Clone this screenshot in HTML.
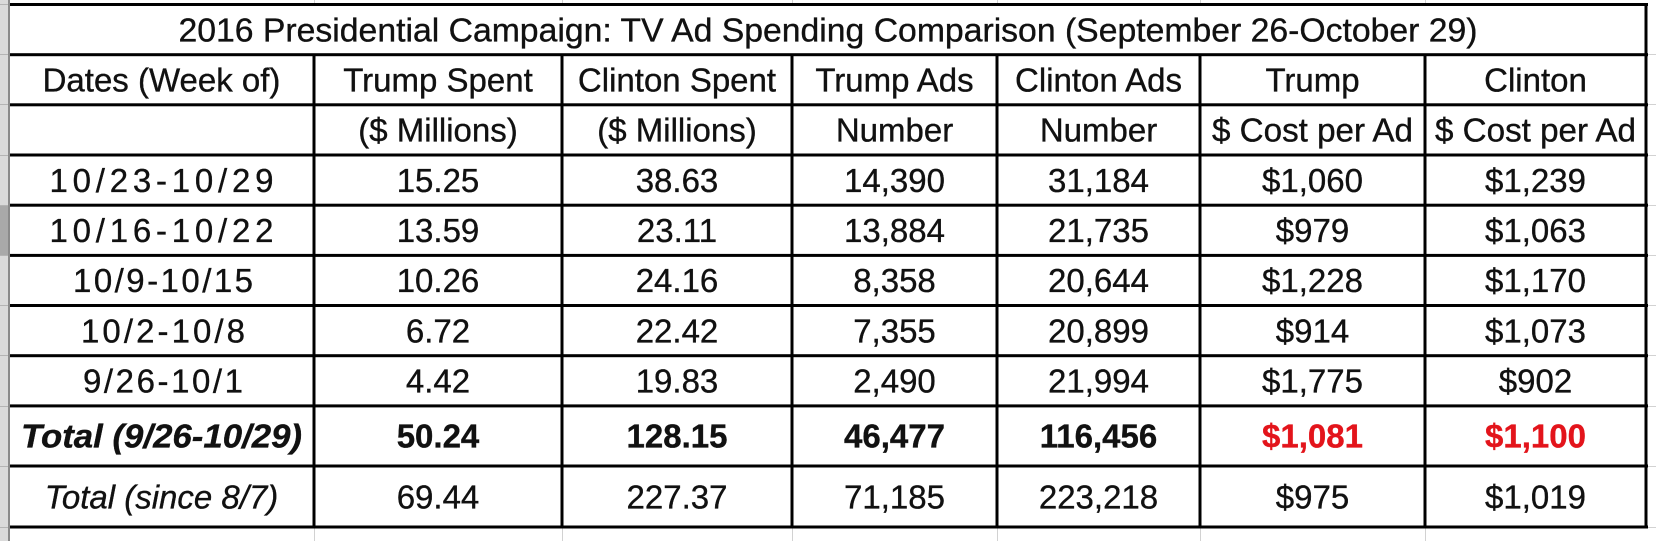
<!DOCTYPE html>
<html>
<head>
<meta charset="utf-8">
<style>
  html, body { margin:0; padding:0; background:#ffffff; }
  body { width:1656px; height:541px; overflow:hidden; }
  svg { display:block; }
  text { font-family: "Liberation Sans", Arial, sans-serif; font-size:33px; fill:#111; stroke:#111; stroke-width:0.35px; }
  .b { font-weight:bold; }
  .i { font-style:italic; }
  .red { fill:#e3141b; stroke:#e3141b; }
</style>
</head>
<body>
<svg width="1656" height="541" viewBox="0 0 1656 541" xmlns="http://www.w3.org/2000/svg">
  <rect x="0" y="0" width="1656" height="541" fill="#ffffff"/>

  <!-- left spreadsheet row-header strip -->
  <rect x="0" y="0" width="8" height="541" fill="#dadada"/>
  <rect x="0" y="205" width="8" height="50" fill="#a9a9a9"/>
  <g fill="#b4b4b4">
    <rect x="0" y="4" width="8" height="1"/>
    <rect x="0" y="54" width="8" height="1"/>
    <rect x="0" y="104" width="8" height="1"/>
    <rect x="0" y="155" width="8" height="1"/>
    <rect x="0" y="205" width="8" height="1"/>
    <rect x="0" y="255" width="8" height="1"/>
    <rect x="0" y="305" width="8" height="1"/>
    <rect x="0" y="355" width="8" height="1"/>
    <rect x="0" y="406" width="8" height="1"/>
    <rect x="0" y="466" width="8" height="1"/>
    <rect x="0" y="527" width="8" height="1"/>
  </g>
  <rect x="8" y="0" width="2" height="541" fill="#8a8a8a"/>

  <!-- faint spreadsheet gridlines outside the table -->
  <g fill="#d2d2d2">
    <rect x="314" y="0" width="1" height="4"/>
    <rect x="562" y="0" width="1" height="4"/>
    <rect x="792" y="0" width="1" height="4"/>
    <rect x="997" y="0" width="1" height="4"/>
    <rect x="1200" y="0" width="1" height="4"/>
    <rect x="1425" y="0" width="1" height="4"/>
    <rect x="314" y="528" width="1" height="13"/>
    <rect x="562" y="528" width="1" height="13"/>
    <rect x="792" y="528" width="1" height="13"/>
    <rect x="997" y="528" width="1" height="13"/>
    <rect x="1200" y="528" width="1" height="13"/>
    <rect x="1425" y="528" width="1" height="13"/>
    <rect x="1648" y="54" width="8" height="1"/>
    <rect x="1648" y="104" width="8" height="1"/>
    <rect x="1648" y="155" width="8" height="1"/>
    <rect x="1648" y="205" width="8" height="1"/>
    <rect x="1648" y="255" width="8" height="1"/>
    <rect x="1648" y="305" width="8" height="1"/>
    <rect x="1648" y="355" width="8" height="1"/>
    <rect x="1648" y="406" width="8" height="1"/>
    <rect x="1648" y="466" width="8" height="1"/>
    <rect x="1648" y="527" width="8" height="1"/>
  </g>

  <!-- table borders -->
  <g fill="#000">
    <rect x="10" y="3" width="1638" height="3"/>
    <rect x="10" y="53.2" width="1638" height="3"/>
    <rect x="10" y="103.3" width="1638" height="3"/>
    <rect x="10" y="153.5" width="1638" height="3"/>
    <rect x="10" y="203.7" width="1638" height="3"/>
    <rect x="10" y="253.9" width="1638" height="3"/>
    <rect x="10" y="304" width="1638" height="3"/>
    <rect x="10" y="354.2" width="1638" height="3"/>
    <rect x="10" y="404.4" width="1638" height="3"/>
    <rect x="10" y="464.5" width="1638" height="3"/>
    <rect x="10" y="525.5" width="1638" height="3"/>
    <rect x="312.5" y="54" width="3" height="474"/>
    <rect x="560.5" y="54" width="3" height="474"/>
    <rect x="790.5" y="54" width="3" height="474"/>
    <rect x="995.5" y="54" width="3" height="474"/>
    <rect x="1198.5" y="54" width="3" height="474"/>
    <rect x="1423.5" y="54" width="3" height="474"/>
    <rect x="1644.5" y="3" width="3" height="525.5"/>
  </g>

  <!-- title -->
  <text x="828" y="41.4" text-anchor="middle" textLength="1299" lengthAdjust="spacingAndGlyphs">2016 Presidential Campaign: TV Ad Spending Comparison (September 26-October 29)</text>

  <!-- header row 1 -->
  <g text-anchor="middle">
    <text x="161.5" y="91.5">Dates (Week of)</text>
    <text x="438" y="91.5">Trump Spent</text>
    <text x="677" y="91.5">Clinton Spent</text>
    <text x="894.5" y="91.5">Trump Ads</text>
    <text x="1098.5" y="91.5">Clinton Ads</text>
    <text x="1312.5" y="91.5">Trump</text>
    <text x="1535.5" y="91.5">Clinton</text>
  </g>

  <!-- header row 2 -->
  <g text-anchor="middle">
    <text x="438" y="141.7">($ Millions)</text>
    <text x="677" y="141.7">($ Millions)</text>
    <text x="894.5" y="141.7">Number</text>
    <text x="1098.5" y="141.7">Number</text>
    <text x="1312.5" y="141.7" textLength="201" lengthAdjust="spacingAndGlyphs">$ Cost per Ad</text>
    <text x="1535.5" y="141.7" textLength="201" lengthAdjust="spacingAndGlyphs">$ Cost per Ad</text>
  </g>

  <!-- data rows -->
  <g text-anchor="middle">
    <text x="161.5" y="191.9" textLength="224" lengthAdjust="spacing">10/23-10/29</text>
    <text x="438" y="191.9">15.25</text>
    <text x="677" y="191.9">38.63</text>
    <text x="894.5" y="191.9">14,390</text>
    <text x="1098.5" y="191.9">31,184</text>
    <text x="1312.5" y="191.9">$1,060</text>
    <text x="1535.5" y="191.9">$1,239</text>

    <text x="161.5" y="242.1" textLength="224" lengthAdjust="spacing">10/16-10/22</text>
    <text x="438" y="242.1">13.59</text>
    <text x="677" y="242.1">23.11</text>
    <text x="894.5" y="242.1">13,884</text>
    <text x="1098.5" y="242.1">21,735</text>
    <text x="1312.5" y="242.1">$979</text>
    <text x="1535.5" y="242.1">$1,063</text>

    <text x="163" y="292.2" textLength="180" lengthAdjust="spacing">10/9-10/15</text>
    <text x="438" y="292.2">10.26</text>
    <text x="677" y="292.2">24.16</text>
    <text x="894.5" y="292.2">8,358</text>
    <text x="1098.5" y="292.2">20,644</text>
    <text x="1312.5" y="292.2">$1,228</text>
    <text x="1535.5" y="292.2">$1,170</text>

    <text x="163" y="342.4" textLength="164" lengthAdjust="spacing">10/2-10/8</text>
    <text x="438" y="342.4">6.72</text>
    <text x="677" y="342.4">22.42</text>
    <text x="894.5" y="342.4">7,355</text>
    <text x="1098.5" y="342.4">20,899</text>
    <text x="1312.5" y="342.4">$914</text>
    <text x="1535.5" y="342.4">$1,073</text>

    <text x="163" y="392.6" textLength="160" lengthAdjust="spacing">9/26-10/1</text>
    <text x="438" y="392.6">4.42</text>
    <text x="677" y="392.6">19.83</text>
    <text x="894.5" y="392.6">2,490</text>
    <text x="1098.5" y="392.6">21,994</text>
    <text x="1312.5" y="392.6">$1,775</text>
    <text x="1535.5" y="392.6">$902</text>
  </g>

  <!-- total (bold) row -->
  <g text-anchor="middle" class="b">
    <text x="161.5" y="447.7" class="b i" textLength="281" lengthAdjust="spacingAndGlyphs">Total (9/26-10/29)</text>
    <text x="438" y="447.7" class="b">50.24</text>
    <text x="677" y="447.7" class="b">128.15</text>
    <text x="894.5" y="447.7" class="b">46,477</text>
    <text x="1098.5" y="447.7" class="b">116,456</text>
    <text x="1312.5" y="447.7" class="b red">$1,081</text>
    <text x="1535.5" y="447.7" class="b red">$1,100</text>
  </g>

  <!-- total since row -->
  <g text-anchor="middle">
    <text x="161.5" y="508.3" class="i">Total (since 8/7)</text>
    <text x="438" y="508.3">69.44</text>
    <text x="677" y="508.3">227.37</text>
    <text x="894.5" y="508.3">71,185</text>
    <text x="1098.5" y="508.3">223,218</text>
    <text x="1312.5" y="508.3">$975</text>
    <text x="1535.5" y="508.3">$1,019</text>
  </g>
</svg>
</body>
</html>
